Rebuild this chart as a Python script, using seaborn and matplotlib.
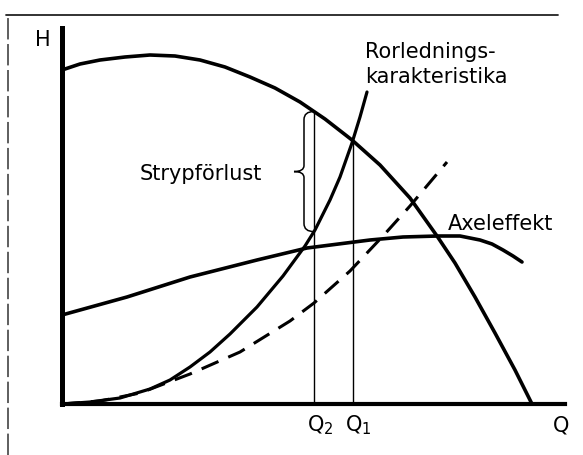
import numpy as np
import pandas as pd
import matplotlib
matplotlib.use("Agg")
import matplotlib.pyplot as plt
import seaborn as sns
from matplotlib.lines import Line2D
from matplotlib.path import Path
from matplotlib.patches import PathPatch

# ---- data (arbitrary units: Q from 0 to 503, H from 0 to 376) ----
pump_q = [0, 18, 38, 63, 88, 113, 138, 163, 188, 213, 238, 263, 290, 318, 348, 375, 393, 413, 433, 453, 470]
pump_h = [334, 340, 344, 347, 349, 348, 344, 337, 327, 316, 302, 285, 264, 239, 206, 168, 141, 107, 71, 34, 0]

pipe_q = [0, 28, 58, 88, 108, 128, 148, 168, 195, 221, 243, 253, 268, 278, 290, 298, 305]
pipe_h = [0, 2, 6, 15, 24, 37, 52, 70, 97, 128, 158, 174, 204, 227, 261, 287, 312]

pipe2_q = [0, 38, 78, 128, 178, 228, 252, 288, 321, 348, 385]
pipe2_h = [0, 3, 11, 30, 52, 83, 101, 133, 168, 198, 242]

power_q = [0, 65, 128, 195, 245, 308, 341, 376, 398, 418, 430, 441, 451, 460]
power_h = [89, 107, 127, 144, 156, 164, 167, 168, 168, 164, 160, 154, 148, 142]

q2 = 252
q1 = 291

sns.set_style("white")
plt.rcParams["font.family"] = ["DejaVu Sans"]
plt.rcParams["text.color"] = "black"

fig = plt.figure(figsize=(5.83, 4.55), dpi=100)
ax = fig.add_axes([62 / 583, 51 / 455, 503 / 583, 376 / 455])
ax.set_xlim(0, 503)
ax.set_ylim(0, 376)

sns.lineplot(x=pump_q, y=pump_h, ax=ax, color="black", lw=2.6, sort=False)
sns.lineplot(x=pipe_q, y=pipe_h, ax=ax, color="black", lw=2.3, sort=False)
sns.lineplot(x=pipe2_q, y=pipe2_h, ax=ax, color="black", lw=2.2, sort=False,
             linestyle=(0, (6, 3.5)))
sns.lineplot(x=power_q, y=power_h, ax=ax, color="black", lw=2.6, sort=False)

# vertical lines at Q2 and Q1 up to the pump curve
h_q2 = np.interp(q2, pump_q, pump_h)
h_q1 = np.interp(q1, pump_q, pump_h)
ax.plot([q2, q2], [0, h_q2], color="black", lw=1.0)
ax.plot([q1, q1], [0, h_q1], color="black", lw=1.0)

# brace between pipe curve and pump curve at Q2
y1 = h_q2
y0 = np.interp(q2, pipe_q, pipe_h)
mid = (y0 + y1) / 2
xb = q2 - 10
xt = q2 - 20
r = 8
verts = [(q2, y1), (xb, y1), (xb, y1 - r),
         (xb, mid + 6),
         (xb, mid), (xt, mid),
         (xb, mid), (xb, mid - 6),
         (xb, y0 + r),
         (xb, y0), (q2, y0)]
codes = [Path.MOVETO, Path.CURVE3, Path.CURVE3,
         Path.LINETO,
         Path.CURVE3, Path.CURVE3,
         Path.CURVE3, Path.CURVE3,
         Path.LINETO,
         Path.CURVE3, Path.CURVE3]
ax.add_patch(PathPatch(Path(verts, codes), fill=False, lw=1.1, edgecolor="black"))

# axes
for s in ["top", "right"]:
    ax.spines[s].set_visible(False)
ax.spines["left"].set_linewidth(3.6)
ax.spines["bottom"].set_linewidth(3.0)
ax.spines["left"].set_color("black")
ax.spines["bottom"].set_color("black")
ax.set_xticks([])
ax.set_yticks([])

fs = 15
kw = dict(fontsize=fs, color="black", clip_on=False)
ax.text(-19, 364, "H", ha="center", va="center", **kw)
ax.text(139, 224, "Strypförlust", ha="center", va="baseline", **kw)
ax.text(303, 346, "Rorlednings-", ha="left", va="baseline", **kw)
ax.text(303, 321, "karakteristika", ha="left", va="baseline", **kw)
ax.text(386, 174, "Axeleffekt", ha="left", va="baseline", **kw)
ax.text(245, -27, "Q$_2$", ha="left", va="baseline", **kw)
ax.text(283, -27, "Q$_1$", ha="left", va="baseline", **kw)
ax.text(491, -27, "Q", ha="left", va="baseline", **kw)

# outer frame fragments (top and left)
fig.add_artist(Line2D([6 / 583, 558 / 583], [1 - 14.5 / 455, 1 - 14.5 / 455],
                      transform=fig.transFigure, color="#222222", lw=1.3))
fig.add_artist(Line2D([7.5 / 583, 7.5 / 583], [0, 1 - 14.5 / 455],
                      transform=fig.transFigure, color="#333333", lw=1.1,
                      linestyle=(0, (14, 3))))

fig.savefig("out.png", dpi=100)
